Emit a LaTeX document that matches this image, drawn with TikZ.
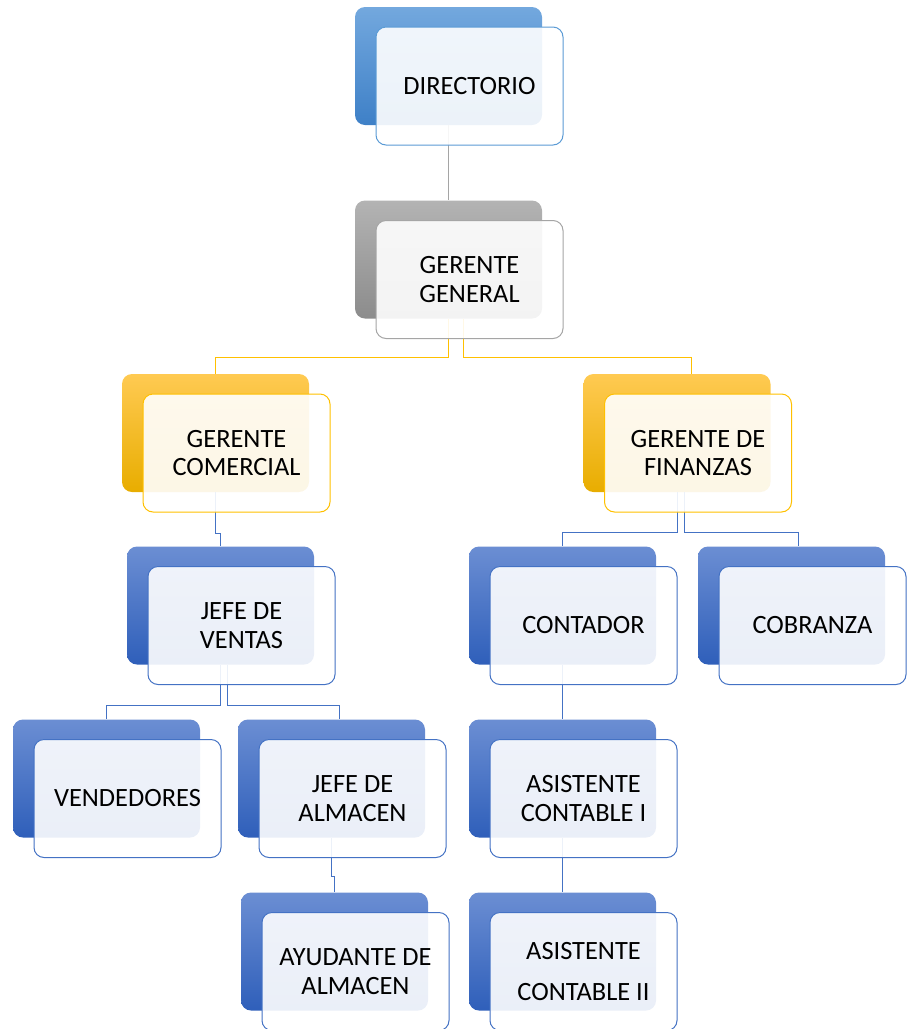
\documentclass[tikz,border=0pt]{standalone}
\usepackage{fontspec}
\setmainfont{Carlito}
\usetikzlibrary{calc}

\definecolor{skytop}{HTML}{73A8DE}
\definecolor{skybot}{HTML}{3E80C7}
\definecolor{skyline}{HTML}{5B9BD5}
\definecolor{bluetop}{HTML}{6B8ED3}
\definecolor{bluebot}{HTML}{2F5FBA}
\definecolor{blueline}{HTML}{4472C4}
\definecolor{graytop}{HTML}{B3B3B3}
\definecolor{graybot}{HTML}{8C8C8C}
\definecolor{grayline}{HTML}{A5A5A5}
\definecolor{goldtop}{HTML}{FFCA52}
\definecolor{goldbot}{HTML}{E8AD00}
\definecolor{goldline}{HTML}{FFC000}

\tikzset{
  backbox/.style={rectangle, rounded corners=7.5pt, minimum width=140.25pt, minimum height=88.5pt, inner sep=0pt},
  frontbox/.style={rectangle, rounded corners=7.5pt, draw, line width=0.75pt, fill=white, fill opacity=0.9, text opacity=1,
    minimum width=140.25pt, minimum height=88.5pt, inner sep=0pt, align=center, font=\fontsize{19.8}{21.2}\selectfont},
  skyback/.style={top color=skytop, bottom color=skybot},
  blueback/.style={top color=bluetop, bottom color=bluebot},
  grayback/.style={top color=graytop, bottom color=graybot},
  goldback/.style={top color=goldtop, bottom color=goldbot},
  link/.style={line width=0.75pt}
}

\begin{document}
\begin{tikzpicture}[x=0.75pt,y=-0.75pt]
\useasboundingbox (0,0) rectangle (908,1029);

% Back boxes
\node[backbox, skyback] (dirB) at (448.5,66) {};
\node[backbox, grayback] (ggB) at (448.5,259.5) {};
\node[backbox, goldback] (gcB) at (215.5,433) {};
\node[backbox, goldback] (gfB) at (677,433) {};
\node[backbox, blueback] (jvB) at (220.5,605.5) {};
\node[backbox, blueback] (contB) at (562.5,605.5) {};
\node[backbox, blueback] (cobB) at (791.5,605.5) {};
\node[backbox, blueback] (vendB) at (106.5,778.5) {};
\node[backbox, blueback] (jaB) at (331.5,778.5) {};
\node[backbox, blueback] (ac1B) at (562.5,778.5) {};
\node[backbox, blueback] (ayB) at (334.5,951.5) {};
\node[backbox, blueback] (ac2B) at (562.5,951.5) {};

% Connectors
\draw[link, grayline] (dirB.south) -- (ggB.north);
\draw[link, goldline] (ggB.south) -- ++(0,39) -| (gcB.north);
\draw[link, goldline] ($(ggB.south)+(15,0)$) -- ++(0,39) -| ($(gfB.north)+(14,0)$);
\draw[link, blueline] (gcB.south) -- ++(0,41) -| (jvB.north);
\draw[link, blueline] (gfB.south) -- ++(0,40) -| (contB.north);
\draw[link, blueline] ($(gfB.south)+(7,0)$) -- ++(0,40) -| ($(cobB.north)+(6.5,0)$);
\draw[link, blueline] (jvB.south) -- ++(0,41) -| (vendB.north);
\draw[link, blueline] ($(jvB.south)+(7,0)$) -- ++(0,41) -| ($(jaB.north)+(7.5,0)$);
\draw[link, blueline] (jaB.south) -- ++(0,39) -| (ayB.north);
\draw[link, blueline] (contB.south) -- (ac1B.north);
\draw[link, blueline] (ac1B.south) -- (ac2B.north);

% Front boxes
\node[frontbox, draw=skyline] (dir) at ($(dirB)+(21,20)$) {DIRECTORIO};
\node[frontbox, draw=grayline] (gg) at ($(ggB)+(21,20)$) {GERENTE\\GENERAL};
\node[frontbox, draw=goldline] (gc) at ($(gcB)+(21,20)$) {GERENTE\\COMERCIAL};
\node[frontbox, draw=goldline] (gf) at ($(gfB)+(21,20)$) {GERENTE DE\\FINANZAS};
\node[frontbox, draw=blueline] (jv) at ($(jvB)+(21,20)$) {JEFE DE\\VENTAS};
\node[frontbox, draw=blueline] (cont) at ($(contB)+(21,20)$) {CONTADOR};
\node[frontbox, draw=blueline] (cob) at ($(cobB)+(21,20)$) {COBRANZA};
\node[frontbox, draw=blueline] (vend) at ($(vendB)+(21,20)$) {VENDEDORES};
\node[frontbox, draw=blueline] (ja) at ($(jaB)+(21,20)$) {JEFE DE\\ALMACEN};
\node[frontbox, draw=blueline] (ac1) at ($(ac1B)+(21,20)$) {ASISTENTE\\CONTABLE I};
\node[frontbox, draw=blueline] (ay) at ($(ayB)+(21,20)$) {AYUDANTE DE\\ALMACEN};
\node[frontbox, draw=blueline] (ac2) at ($(ac2B)+(21,20)$) {ASISTENTE\\[10pt]CONTABLE II};
\end{tikzpicture}
\end{document}
